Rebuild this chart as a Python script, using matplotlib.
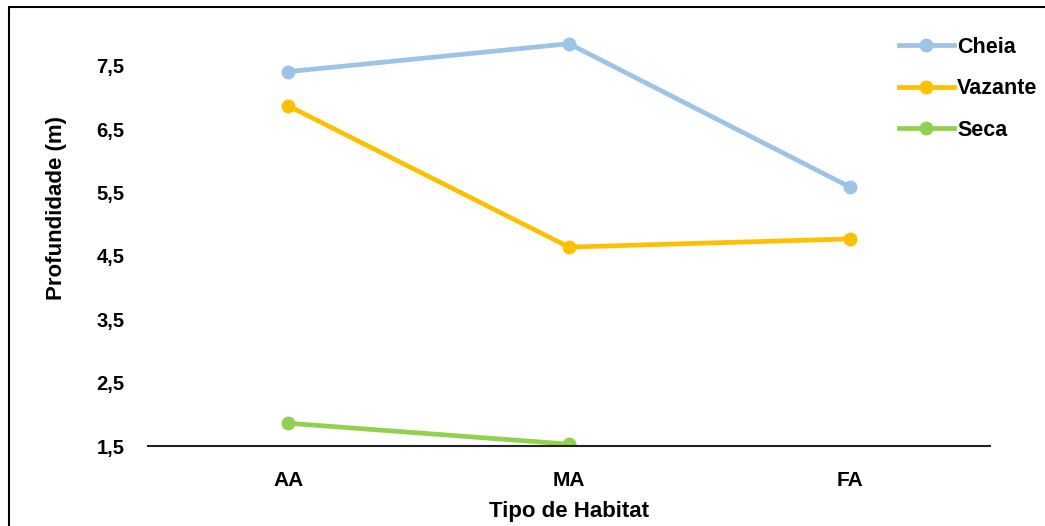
import numpy as np
import matplotlib
matplotlib.use('Agg')
import matplotlib.pyplot as plt
from matplotlib.patches import Rectangle

habitats = ['AA', 'MA', 'FA']
cheia = [7.41, 7.85, 5.59]
vazante = [6.87, 4.64, 4.77]
seca = [1.86, 1.53]
yticks = [1.5, 2.5, 3.5, 4.5, 5.5, 6.5, 7.5]

plt.rcParams['font.family'] = ['Liberation Sans', 'DejaVu Sans']
plt.rcParams['font.weight'] = 'bold'

fig = plt.figure(figsize=(10.45, 5.26), dpi=100)
ax = fig.add_axes([0.1416, 0.152, 0.8058, 0.807])

x = np.arange(len(habitats))
ax.plot(x, cheia, color='#9DC3E6', lw=3.4, marker='o', ms=9, label='Cheia')
ax.plot(x, vazante, color='#FFC000', lw=3.4, marker='o', ms=9, label='Vazante')
ax.plot(x[:len(seca)], seca, color='#92D050', lw=3.4, marker='o', ms=9, label='Seca')

ax.set_xlim(-0.5, 2.5)
ax.set_ylim(1.5, 8.2)
ax.set_xticks(x)
ax.set_xticklabels(habitats, fontsize=15, fontweight='bold')
ax.set_yticks(yticks)
ax.set_yticklabels([str(v).replace('.', ',') for v in yticks], fontsize=14.5, fontweight='bold')
ax.tick_params(axis='both', length=0)
ax.tick_params(axis='x', pad=18)
ax.tick_params(axis='y', pad=17)

for side in ['top', 'right', 'left']:
    ax.spines[side].set_visible(False)
ax.spines['bottom'].set_linewidth(1.5)
ax.spines['bottom'].set_color('#222222')

ax.set_xlabel('Tipo de Habitat', fontsize=16, fontweight='bold', labelpad=8)
ax.set_ylabel('Profundidade (m)', fontsize=16, fontweight='bold', labelpad=21)
ax.yaxis.label.set_y(0.56)

leg = fig.legend(loc='upper left', bbox_to_anchor=(899 / 1045, 1 - 37 / 526),
                 frameon=False, fontsize=15.5, handlelength=2.55, handletextpad=0.15,
                 labelspacing=0.95, borderaxespad=0, borderpad=0)
for t in leg.get_texts():
    t.set_fontweight('bold')

# outer frame
fig.patches.append(Rectangle((9 / 1045, -0.1), 1.2, 1 - 7 / 526 + 0.1,
                             transform=fig.transFigure, fill=False,
                             edgecolor='black', lw=1.5))

fig.savefig('out.png', dpi=100)
